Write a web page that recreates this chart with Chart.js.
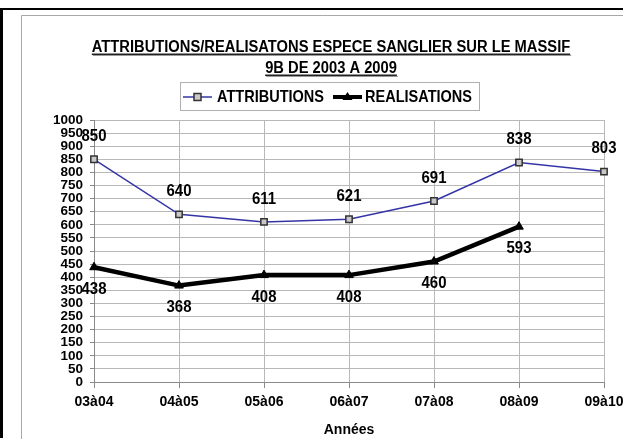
<!DOCTYPE html>
<html><head><meta charset="utf-8">
<script src="https://cdn.jsdelivr.net/npm/chart.js@4"></script>
<style>html,body{margin:0;padding:0;background:#fff}canvas{display:block}</style>
</head><body>
<canvas id="c" width="623" height="439"></canvas>
<script>
const categories = ['03à04','04à05','05à06','06à07','07à08','08à09','09à10'];
const attributions = [850, 640, 611, 621, 691, 838, 803];
const realisations = [438, 368, 408, 408, 460, 593, null];
const seriesNames = ['ATTRIBUTIONS', 'REALISATIONS'];
const titleLines = ['ATTRIBUTIONS/REALISATONS ESPECE SANGLIER SUR LE MASSIF', '9B DE 2003 A 2009'];
const xAxisTitle = 'Années';
const yMin = 0, yMax = 1000, yStep = 50;

const FONT = '"Liberation Sans", Arial, sans-serif';
const BLUE = '#3434a6';

function condensedText(ctx, text, x, y, sx) {
  ctx.save();
  ctx.translate(x, y);
  ctx.scale(sx, 1);
  ctx.fillText(text, 0, 0);
  ctx.restore();
}

const framePlugin = {
  id: 'frame',
  beforeDraw(chart) {
    const ctx = chart.ctx;
    ctx.save();
    ctx.fillStyle = '#fff';
    ctx.fillRect(0, 0, chart.width, chart.height);
    ctx.strokeStyle = '#000';
    ctx.lineWidth = 2;
    ctx.beginPath(); ctx.moveTo(0, 9); ctx.lineTo(chart.width, 9); ctx.stroke();
    ctx.lineWidth = 3;
    ctx.beginPath(); ctx.moveTo(1.5, 8); ctx.lineTo(1.5, 438); ctx.stroke();
    ctx.strokeStyle = '#a8a8a8';
    ctx.lineWidth = 1;
    ctx.beginPath(); ctx.moveTo(21.5, chart.height); ctx.lineTo(21.5, 15.5); ctx.lineTo(chart.width, 15.5); ctx.stroke();
    ctx.restore();
  },
  afterDraw(chart) {
    const ctx = chart.ctx;
    ctx.save();
    // title
    ctx.textAlign = 'center';
    ctx.textBaseline = 'alphabetic';
    ctx.font = 'bold 16px ' + FONT;
    const cx = 331, tsx = 0.92;
    const bases = [52, 73];
    titleLines.forEach((t, i) => {
      const w = ctx.measureText(t).width * tsx;
      ctx.fillStyle = '#000';
      condensedText(ctx, t, cx, bases[i], tsx);
      ctx.fillStyle = '#222';
      ctx.fillRect(cx - w / 2, bases[i] + 1.5, w, 1.5);
      ctx.fillStyle = '#9a9a9a';
      ctx.fillRect(cx - w / 2 + 1, bases[i] + 3, w, 1);
    });
    // legend
    ctx.strokeStyle = '#b0b0b0';
    ctx.lineWidth = 1;
    ctx.strokeRect(180.5, 82.5, 299, 28);
    const ly = 97;
    ctx.strokeStyle = BLUE; ctx.lineWidth = 1.5;
    ctx.beginPath(); ctx.moveTo(183, ly); ctx.lineTo(212, ly); ctx.stroke();
    ctx.fillStyle = '#c8c8c8'; ctx.strokeStyle = '#333';
    ctx.fillRect(194, ly - 3.5, 7, 7); ctx.strokeRect(194, ly - 3.5, 7, 7);
    ctx.strokeStyle = '#000'; ctx.lineWidth = 4;
    ctx.beginPath(); ctx.moveTo(333, ly); ctx.lineTo(362, ly); ctx.stroke();
    ctx.fillStyle = '#000';
    ctx.beginPath(); ctx.moveTo(347.5, ly - 5); ctx.lineTo(352.5, ly + 3); ctx.lineTo(342.5, ly + 3); ctx.closePath(); ctx.fill();
    ctx.font = 'bold 16.5px ' + FONT;
    ctx.textAlign = 'left'; ctx.textBaseline = 'middle';
    condensedText(ctx, seriesNames[0], 217, ly + 0.5, 0.88);
    condensedText(ctx, seriesNames[1], 365, ly + 0.5, 0.88);
    ctx.restore();
  },
  afterDatasetsDraw(chart) {
    const ctx = chart.ctx;
    ctx.save();
    ctx.font = 'bold 17px ' + FONT;
    ctx.fillStyle = '#000';
    ctx.textAlign = 'center';
    ctx.textBaseline = 'middle';
    chart.data.datasets.forEach((ds, di) => {
      const meta = chart.getDatasetMeta(di);
      meta.data.forEach((el, i) => {
        const v = ds.data[i];
        if (v === null || v === undefined) return;
        const dy = di === 0 ? -23 : 22;
        condensedText(ctx, String(v), el.x, el.y + dy, 0.88);
      });
    });
    ctx.restore();
  }
};

new Chart(document.getElementById('c'), {
  type: 'line',
  data: {
    labels: categories,
    datasets: [
      {
        label: seriesNames[0], data: attributions,
        borderColor: BLUE, borderWidth: 1.5, tension: 0,
        pointStyle: 'rect', pointRadius: 4.5,
        pointBackgroundColor: '#c8c8c8', pointBorderColor: '#333', pointBorderWidth: 1.5,
        clip: false
      },
      {
        label: seriesNames[1], data: realisations,
        borderColor: '#000', borderWidth: 4.5, tension: 0,
        pointStyle: 'triangle', pointRadius: 5,
        pointBackgroundColor: '#000', pointBorderColor: '#000', pointBorderWidth: 1,
        spanGaps: false, clip: false
      }
    ]
  },
  options: {
    responsive: false,
    animation: false,
    devicePixelRatio: 1,
    layout: { padding: { top: 120, right: 19, left: 0, bottom: 0 } },
    plugins: { legend: { display: false }, title: { display: false }, tooltip: { enabled: false } },
    scales: {
      x: {
        type: 'category', offset: false,
        grid: { color: '#b8b8b8', tickColor: '#8a8a8a', tickLength: 6 },
        border: { color: '#8a8a8a' },
        ticks: { font: { family: FONT, size: 14, weight: 'bold' }, color: '#000', padding: 6, maxRotation: 0, autoSkip: false },
        title: { display: true, text: xAxisTitle, color: '#000', font: { family: FONT, size: 14, weight: 'bold' }, padding: 0 },
        afterFit(s) { s.height = 57; s.paddingLeft = 0; s.paddingRight = 0; }
      },
      y: {
        min: yMin, max: yMax,
        grid: { color: '#b8b8b8', tickColor: '#8a8a8a', tickLength: 4 },
        border: { color: '#8a8a8a' },
        ticks: { stepSize: yStep, autoSkip: false, color: '#000', padding: 7,
                 font: { family: FONT, size: 13.5, weight: 'bold', lineHeight: 1 },
                 callback: (v) => String(v) },
        afterFit(s) { s.width = 94; s.paddingTop = 0; s.paddingBottom = 0; }
      }
    }
  },
  plugins: [framePlugin]
});
</script>
</body></html>
